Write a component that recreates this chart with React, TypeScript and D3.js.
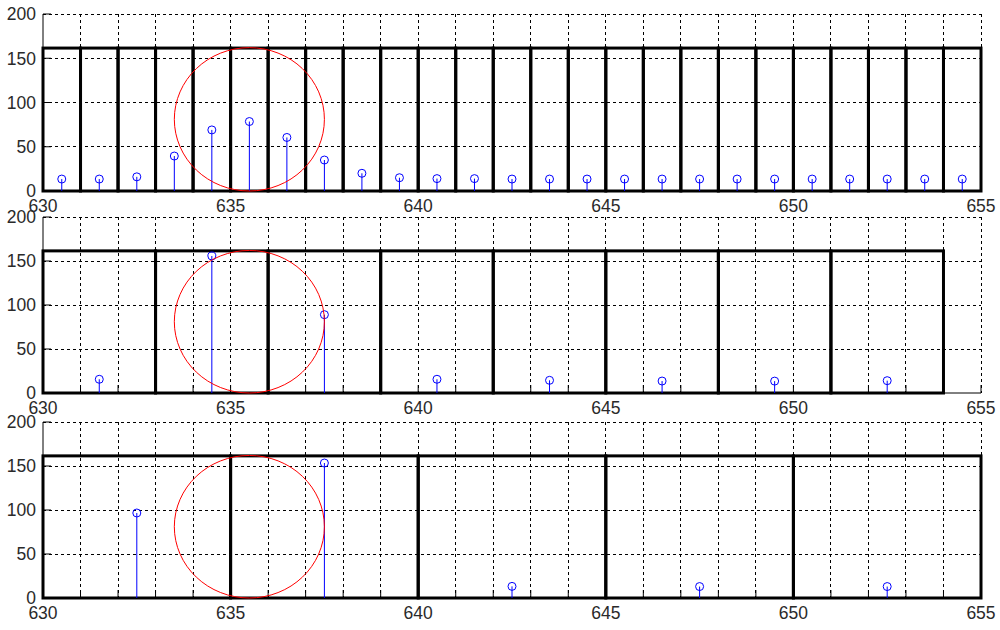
import React from "react";
import * as d3 from "d3";

// ---- data ----
const xDomain: [number, number] = [630, 655];
const yDomain: [number, number] = [0, 200];
const xTickLabels = [630, 635, 640, 645, 650, 655];
const yTickLabels = [0, 50, 100, 150, 200];
const barHeight = 161.5;

// panel 1: 25 bins of width 1
const bins1Start = [630, 631, 632, 633, 634, 635, 636, 637, 638, 639, 640, 641, 642, 643, 644, 645, 646, 647, 648, 649, 650, 651, 652, 653, 654];
const bins1Width = 1;
const stems1X = [630.5, 631.5, 632.5, 633.5, 634.5, 635.5, 636.5, 637.5, 638.5, 639.5, 640.5, 641.5, 642.5, 643.5, 644.5, 645.5, 646.5, 647.5, 648.5, 649.5, 650.5, 651.5, 652.5, 653.5, 654.5];
const stems1Y = [13.5, 13.5, 16, 39.5, 69, 78.5, 60.5, 35, 20, 15, 14, 14, 13.5, 13.5, 13.5, 13.5, 13.5, 13.5, 13.5, 13.5, 13.5, 13.5, 13.5, 13.5, 13.5];

// panel 2: 8 bins of width 3
const bins2Start = [630, 633, 636, 639, 642, 645, 648, 651];
const bins2Width = 3;
const stems2X = [631.5, 634.5, 637.5, 640.5, 643.5, 646.5, 649.5, 652.5];
const stems2Y = [15.6, 155.7, 89, 15.6, 14.4, 13.6, 13.5, 14];

// panel 3: 5 bins of width 5
const bins3Start = [630, 635, 640, 645, 650];
const bins3Width = 5;
const stems3X = [632.5, 637.5, 642.5, 647.5, 652.5];
const stems3Y = [96.6, 153.4, 13.2, 13, 13];

// highlighted region (ellipse)
const ellipseCx = 635.5;
const ellipseCy = 81;
const ellipseRx = 2;
const ellipseRy = 81;

const panels = [
  { top: 14, bottom: 191, bins: bins1Start, w: bins1Width, sx: stems1X, sy: stems1Y },
  { top: 217, bottom: 393, bins: bins2Start, w: bins2Width, sx: stems2X, sy: stems2Y },
  { top: 422, bottom: 598, bins: bins3Start, w: bins3Width, sx: stems3X, sy: stems3Y },
];

const LEFT = 43;
const RIGHT = 981;
const FONT = "'Liberation Sans', Arial, sans-serif";
const TEXT = "#2a2a2a";
const FS = 17.5;

function Panel({ p }: { p: (typeof panels)[number] }) {
  const x = d3.scaleLinear().domain(xDomain).range([LEFT, RIGHT]);
  const y = d3.scaleLinear().domain(yDomain).range([p.bottom, p.top]);
  const xGrid = d3.range(xDomain[0] + 1, xDomain[1] + 1);
  const xTicks = d3.range(xDomain[0], xDomain[1] + 1);
  const yGrid = yTickLabels.filter((v) => v > 0);
  const tickLen = 8;
  return (
    <g>
      {/* grid */}
      {yGrid.map((v) => (
        <line key={"gy" + v} x1={LEFT} x2={RIGHT} y1={y(v)} y2={y(v)} stroke="#000" strokeWidth={1} strokeDasharray="3,3" shapeRendering="crispEdges" />
      ))}
      {xGrid.map((v) => (
        <line key={"gx" + v} x1={x(v)} x2={x(v)} y1={p.top} y2={p.bottom} stroke="#000" strokeWidth={1} strokeDasharray="3,3" shapeRendering="crispEdges" />
      ))}
      {/* axes */}
      <line x1={LEFT} x2={LEFT} y1={p.top} y2={p.bottom} stroke="#000" strokeWidth={1} />
      <line x1={LEFT} x2={RIGHT} y1={p.bottom} y2={p.bottom} stroke="#000" strokeWidth={1} />
      {yTickLabels.map((v) => (
        <line key={"ty" + v} x1={LEFT} x2={LEFT + tickLen} y1={y(v)} y2={y(v)} stroke="#000" strokeWidth={1} />
      ))}
      {xTicks.map((v) => (
        <line key={"tx" + v} x1={x(v)} x2={x(v)} y1={p.bottom} y2={p.bottom - tickLen} stroke="#000" strokeWidth={1} />
      ))}
      {/* bars */}
      {p.bins.map((b) => (
        <rect key={"b" + b} x={x(b)} y={y(barHeight)} width={x(b + p.w) - x(b)} height={y(0) - y(barHeight)} fill="none" stroke="#000" strokeWidth={3} />
      ))}
      {/* stems */}
      {p.sx.map((sx, i) => (
        <g key={"s" + i}>
          <line x1={x(sx)} x2={x(sx)} y1={y(0)} y2={y(p.sy[i])} stroke="#0000ff" strokeWidth={1} />
          <circle cx={x(sx)} cy={y(p.sy[i])} r={4} fill="none" stroke="#0000ff" strokeWidth={1} />
        </g>
      ))}
      {/* highlight ellipse */}
      <ellipse cx={x(ellipseCx)} cy={y(ellipseCy)} rx={x(ellipseCx + ellipseRx) - x(ellipseCx)} ry={y(0) - y(ellipseRy)} fill="none" stroke="#ff0000" strokeWidth={1} />
      {/* labels */}
      {yTickLabels.map((v) => (
        <text key={"ly" + v} x={36} y={y(v)} dy="0.36em" textAnchor="end" fontFamily={FONT} fontSize={FS} fill={TEXT}>
          {v}
        </text>
      ))}
      {xTickLabels.map((v) => (
        <text key={"lx" + v} x={x(v)} y={p.bottom + 20.5} textAnchor="middle" fontFamily={FONT} fontSize={FS} fill={TEXT}>
          {v}
        </text>
      ))}
    </g>
  );
}

export default function App() {
  return (
    <svg width={1000} height={630} style={{ position: "absolute", left: 0, top: 0, background: "#fff" }}>
      <rect x={0} y={0} width={1000} height={630} fill="#fff" />
      {panels.map((p, i) => (
        <Panel key={i} p={p} />
      ))}
    </svg>
  );
}
